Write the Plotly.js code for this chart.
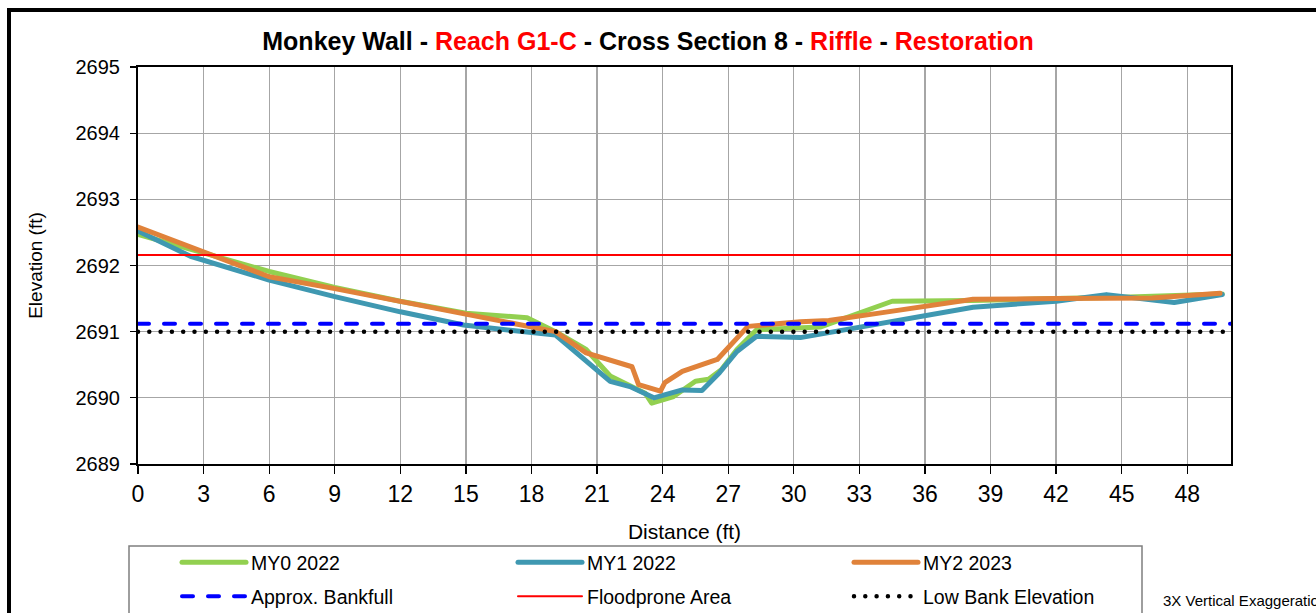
<!DOCTYPE html>
<html>
<head>
<meta charset="utf-8">
<script src="https://cdn.plot.ly/plotly-3.0.1.min.js"></script>
<style>
  html, body { margin: 0; padding: 0; background: #ffffff; }
  #chart { width: 1316px; height: 613px; }
  .js-line { stroke-linecap: round; stroke-linejoin: round; }
</style>
</head>
<body>
<div id="chart"></div>
<script>
// ---- Data ----
const my0X = [0, 3, 6, 9, 12, 15, 17.8, 19.1, 20.5, 21.6, 23.2, 23.5, 24.5, 25.5, 26.1, 26.7, 27.4, 28.3, 31.2, 34.5, 38.2, 42, 45, 49.6];
const my0Y = [2692.47, 2692.19, 2691.91, 2691.67, 2691.46, 2691.28, 2691.21, 2691.0, 2690.73, 2690.33, 2690.07, 2689.92, 2690.02, 2690.25, 2690.28, 2690.43, 2690.73, 2691.03, 2691.07, 2691.46, 2691.47, 2691.5, 2691.52, 2691.57];

const my1X = [0, 2.4, 6, 9, 12, 14.9, 17.9, 19.1, 21.6, 22.5, 23.6, 24.9, 25.8, 26.6, 27.4, 28.3, 30.3, 31.8, 33.9, 38.2, 42, 44.3, 47.4, 49.6];
const my1Y = [2692.52, 2692.14, 2691.78, 2691.53, 2691.3, 2691.1, 2690.99, 2690.95, 2690.25, 2690.17, 2690.0, 2690.12, 2690.11, 2690.38, 2690.7, 2690.93, 2690.91, 2691.0, 2691.13, 2691.37, 2691.46, 2691.56, 2691.44, 2691.56];

const my2X = [0, 3, 6, 9, 12, 14.9, 17.9, 19.1, 20.5, 22.6, 22.9, 23.9, 24.1, 24.9, 26.5, 27.9, 30.3, 31.6, 33.9, 38.2, 42, 46.4, 49.5];
const my2Y = [2692.58, 2692.2, 2691.83, 2691.65, 2691.46, 2691.28, 2691.08, 2691.0, 2690.68, 2690.47, 2690.2, 2690.1, 2690.23, 2690.4, 2690.58, 2691.08, 2691.15, 2691.17, 2691.28, 2691.49, 2691.5, 2691.51, 2691.58];

const bankfullX = [0, 50];
const bankfullY = [2691.12, 2691.12];
const floodX = [0, 50];
const floodY = [2692.16, 2692.16];
const lowBankX = [0, 50];
const lowBankY = [2691.0, 2691.0];

const seriesNames = ['MY0 2022', 'MY1 2022', 'MY2 2023', 'Approx. Bankfull', 'Floodprone Area', 'Low Bank Elevation'];
const xTickVals = [0, 3, 6, 9, 12, 15, 18, 21, 24, 27, 30, 33, 36, 39, 42, 45, 48];
const yTickVals = [2689, 2690, 2691, 2692, 2693, 2694, 2695];

const FONT = 'Liberation Sans, Arial, sans-serif';

const traces = [
  { x: my0X, y: my0Y, name: seriesNames[0], mode: 'lines', legend: 'legend',
    line: { color: '#92D050', width: 5 } },
  { x: my1X, y: my1Y, name: seriesNames[1], mode: 'lines', legend: 'legend',
    line: { color: '#3F98B1', width: 5 } },
  { x: my2X, y: my2Y, name: seriesNames[2], mode: 'lines', legend: 'legend',
    line: { color: '#E0823A', width: 5 } },
  { x: bankfullX, y: bankfullY, name: seriesNames[3], mode: 'lines', legend: 'legend2',
    line: { color: '#0000FF', width: 4, dash: '11px,15px' } },
  { x: floodX, y: floodY, name: seriesNames[4], mode: 'lines', legend: 'legend2',
    line: { color: '#FF0000', width: 2 } },
  { x: lowBankX, y: lowBankY, name: seriesNames[5], mode: 'lines', legend: 'legend2',
    line: { color: '#000000', width: 4.5, dash: '0px,11.3px' } }
];

const plotL = 138, plotR = 1231, plotT = 67, plotB = 464;
const pw = plotR - plotL, ph = plotB - plotT;
const px = v => (v - plotL) / pw;
const py = v => (plotB - v) / ph;

const legendCommon = {
  orientation: 'h', xref: 'container', yref: 'container',
  xanchor: 'left', yanchor: 'top',
  entrywidth: 257, entrywidthmode: 'pixels', itemwidth: 64,
  font: { family: FONT, size: 19.5, color: '#000' },
  bgcolor: 'rgba(0,0,0,0)', borderwidth: 0, traceorder: 'normal'
};

const layout = {
  width: 1316, height: 613,
  margin: { l: plotL, r: 1316 - plotR, t: plotT, b: 613 - plotB, pad: 0 },
  paper_bgcolor: '#ffffff', plot_bgcolor: '#ffffff',
  font: { family: FONT, color: '#000' },
  title: {
    text: 'Monkey Wall - <span style="color:#FF0000">Reach G1-C</span> - Cross Section 8 - <span style="color:#FF0000">Riffle</span> - <span style="color:#FF0000">Restoration</span>',
    font: { family: FONT, size: 25, color: '#000', weight: 700 },
    xref: 'container', x: 648 / 1316, xanchor: 'center',
    yref: 'container', y: 1 - 41 / 613, yanchor: 'middle'
  },
  xaxis: {
    range: [0, 50], tickvals: xTickVals, ticktext: xTickVals.map(String),
    showgrid: true, gridcolor: '#A6A6A6', gridwidth: 1.3,
    showline: true, linecolor: '#000', linewidth: 2, mirror: true,
    ticks: 'outside', ticklen: 8, tickwidth: 1.3, tickcolor: '#000',
    tickfont: { family: FONT, size: 23, color: '#000' },
    zeroline: false,
    title: { text: 'Distance (ft)', font: { family: FONT, size: 21, color: '#000' }, standoff: 24 }
  },
  yaxis: {
    range: [2689, 2695], tickvals: yTickVals, ticktext: yTickVals.map(String),
    showgrid: true, gridcolor: '#A6A6A6', gridwidth: 1.3,
    showline: true, linecolor: '#000', linewidth: 2, mirror: true,
    ticks: 'outside', ticklen: 6, tickwidth: 1.3, tickcolor: '#000',
    tickfont: { family: FONT, size: 20, color: '#000' },
    ticklabelstandoff: 6,
    zeroline: false,
    title: { text: 'Elevation (ft)', font: { family: FONT, size: 19, color: '#000' }, standoff: 28 }
  },
  showlegend: true,
  legend: Object.assign({}, legendCommon, { x: 177 / 1316, y: 1 - 543 / 613 }),
  legend2: Object.assign({}, legendCommon, { x: 177 / 1316, y: 1 - 577 / 613 }),
  shapes: [
    { type: 'rect', xref: 'paper', yref: 'paper', layer: 'above',
      x0: px(9), x1: px(1340), y0: py(640), y1: py(10),
      line: { color: '#000', width: 4 }, fillcolor: 'rgba(0,0,0,0)' },
    { type: 'rect', xref: 'paper', yref: 'paper', layer: 'above',
      x0: px(129), x1: px(1142), y0: py(640), y1: py(546),
      line: { color: '#7F7F7F', width: 1.5 }, fillcolor: 'rgba(0,0,0,0)' }
  ],
  annotations: [
    { text: '3X Vertical Exaggeration', xref: 'paper', yref: 'paper',
      x: px(1161), y: py(600), xanchor: 'left', yanchor: 'middle',
      showarrow: false, font: { family: FONT, size: 15, color: '#000' } }
  ]
};

Plotly.newPlot('chart', traces, layout, { displayModeBar: false, staticPlot: true });
</script>
</body>
</html>
